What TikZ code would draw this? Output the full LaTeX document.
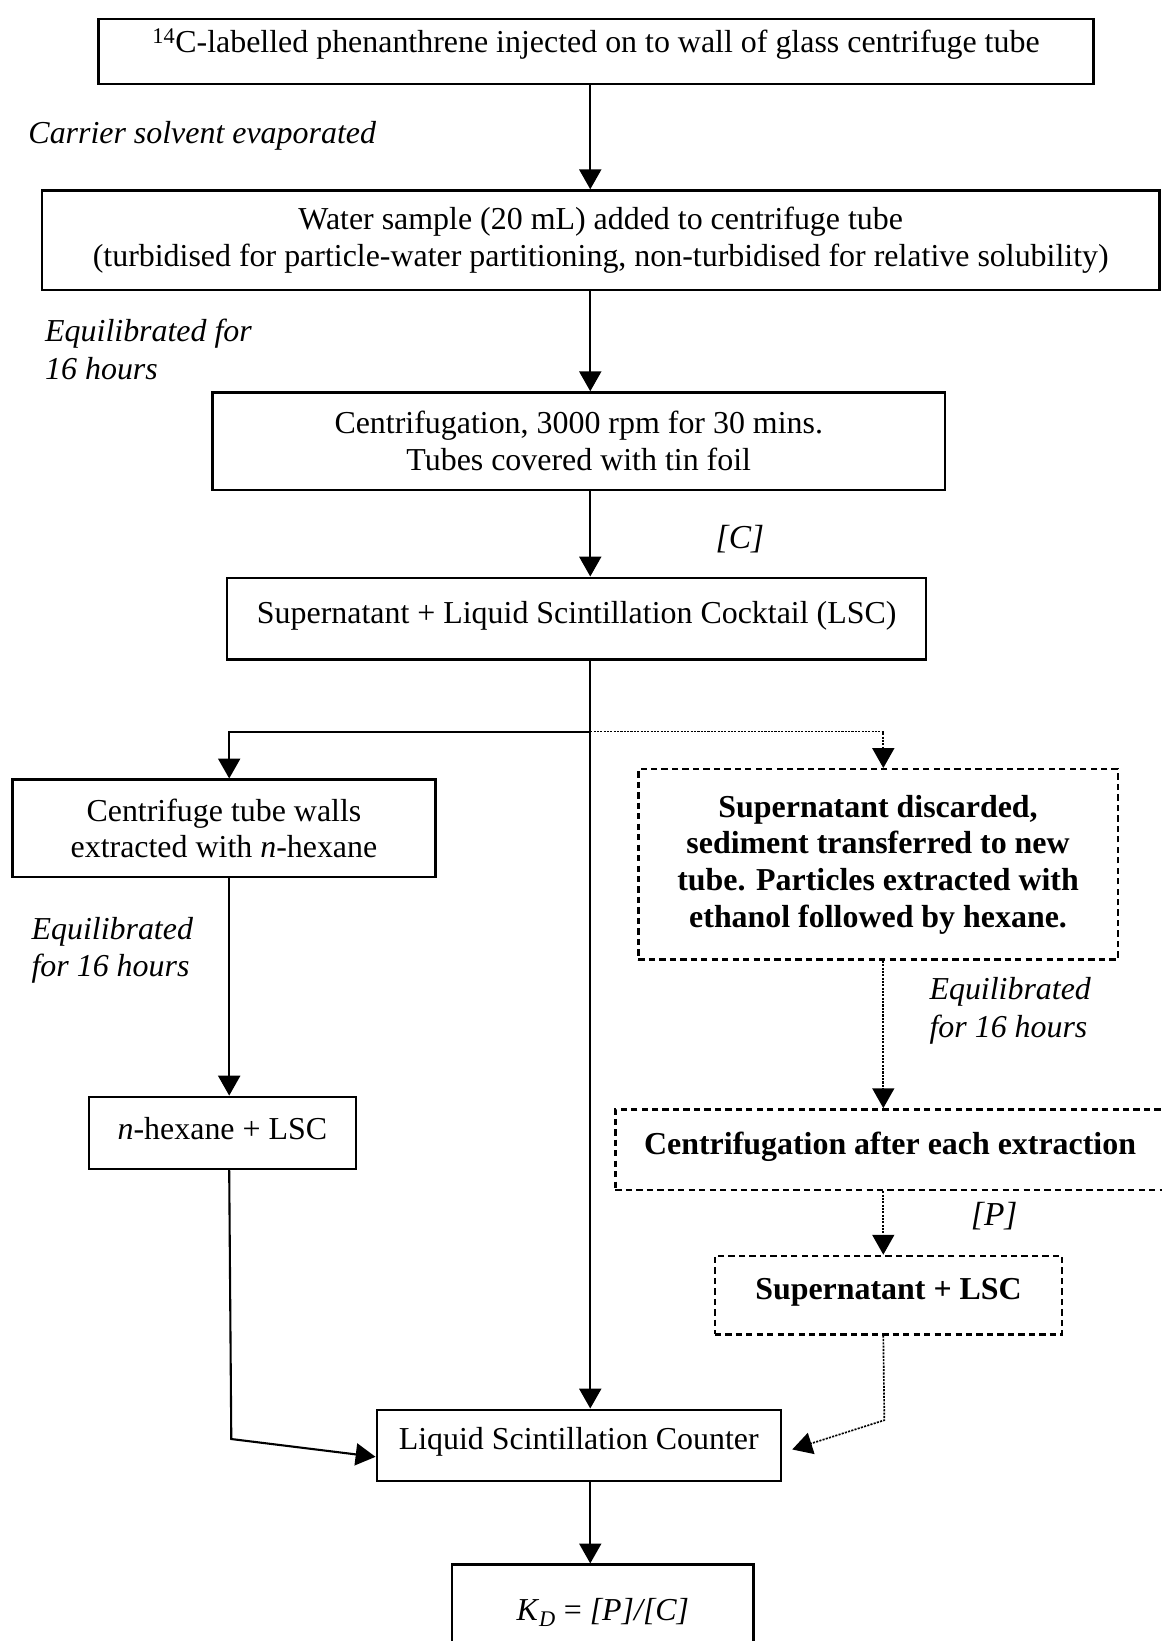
\documentclass[tikz,border=0pt]{standalone}
\usepackage{fontspec}
\setmainfont{Liberation Serif}
\usetikzlibrary{arrows.meta,calc}
\begin{document}
\begin{tikzpicture}[x=1pt,y=-1pt,
  box/.style={draw,line width=2.3pt,inner sep=0pt,align=center,font=\fontsize{30.5}{35}\selectfont},
  dbox/.style={box,dash pattern=on 6pt off 4pt,font=\fontsize{30.5}{35}\selectfont\bfseries},
  lab/.style={font=\fontsize{30.5}{36}\selectfont\itshape,align=left,inner sep=0pt},
  arr/.style={line width=2pt,-{Triangle[length=19pt,width=21pt]}},
  darr/.style={line width=1.6pt,dash pattern=on 2pt off 1.2pt,-{Triangle[length=19pt,width=21pt]}},
]
\useasboundingbox (0,0) rectangle (1110,1568);
\fill[white] (0,0) rectangle (1110,1568);

% boxes
\node[box,minimum width=951pt,minimum height=62pt] (b1) at (569.5,49)
  {\raisebox{7pt}[\height][\depth]{\textsuperscript{14}C-labelled phenanthrene injected on to wall of glass centrifuge tube}};
\node[box,minimum width=1068pt,minimum height=95pt] (b2) at (574,229.5)
  {Water sample (20 mL) added to centrifuge tube\\(turbidised for particle-water partitioning, non-turbidised for relative solubility)};
\node[box,minimum width=700pt,minimum height=93pt] (b3) at (553,421.5)
  {Centrifugation, 3000 rpm for 30 mins.\\Tubes covered with tin foil};
\node[box,minimum width=668pt,minimum height=78pt] (b4) at (551,591)
  {\raisebox{3pt}[\height][\depth]{Supernatant + Liquid Scintillation Cocktail (LSC)}};
\node[box,minimum width=404pt,minimum height=93pt] (b5) at (214,791.5)
  {Centrifuge tube walls\\extracted with \textit{n}-hexane};
\node[dbox,minimum width=458pt,minimum height=182pt] (b6) at (839,826)
  {Supernatant discarded,\\sediment transferred to new\\tube. Particles extracted with\\ethanol followed by hexane.};
\node[box,minimum width=255pt,minimum height=69pt] (b7) at (212.5,1082.5)
  {\raisebox{4pt}[\height][\depth]{\textit{n}-hexane + LSC}};
\node[dbox,minimum width=537pt,minimum height=77pt] (b8) at (856.5,1098.5)
  {\hspace*{-12pt}\raisebox{3pt}[\height][\depth]{Centrifugation after each extraction}};
\node[dbox,minimum width=332pt,minimum height=75pt] (b9) at (849,1237.5)
  {\raisebox{3pt}[\height][\depth]{Supernatant + LSC}};
\node[box,minimum width=386pt,minimum height=68pt] (b10) at (553,1381)
  {\raisebox{3pt}[\height][\depth]{Liquid Scintillation Counter}};
\node[box,minimum width=288pt,minimum height=92pt] (b11) at (576,1541)
  {\textit{K}\textsubscript{\textit{D}} = \textit{[P]/[C]}};

% labels
\node[lab,anchor=west] (l1) at (27,130) {Carrier solvent evaporated};
\node[lab,anchor=west] (l2) at (43,334) {Equilibrated for\\16 hours};
\node[lab,font=\fontsize{32}{36}\selectfont\itshape] (l3) at (707,515) {[C]};
\node[lab,anchor=west] (l4) at (30,908) {Equilibrated\\for 16 hours};
\node[lab,anchor=west] (l5) at (888,966) {Equilibrated\\for 16 hours};
\node[lab,font=\fontsize{32}{36}\selectfont\itshape] (l6) at (950,1162) {[P]};

% column coordinates
\coordinate (cm) at (564,0);
\coordinate (cl) at (219,0);
\coordinate (cr) at (844,0);
\coordinate (br) at (564,699);
\coordinate (kl) at (221,1375);
\coordinate (kr) at (845,1357);
\coordinate (tr) at (757,1385);

% connectors
\draw[arr] (b1.south -| cm) -- (b2.north -| cm);
\draw[arr] (b2.south -| cm) -- (b3.north -| cm);
\draw[arr] (b3.south -| cm) -- (b4.north -| cm);
\draw[arr] (b4.south -| cm) -- (b10.north -| cm);
\draw[arr] (br) -| (b5.north -| cl);
\draw[darr] (br) -| (b6.north -| cr);
\draw[arr] (b5.south -| cl) -- (b7.north -| cl);
\draw[arr] (b7.south -| cl) -- (kl) -- ($(b10.west)+(0,11)$);
\draw[darr] (b6.south -| cr) -- (b8.north -| cr);
\draw[darr] (b8.south -| cr) -- (b9.north -| cr);
\draw[darr] (b9.south -| cr) -- (kr) -- (tr);
\draw[arr] (b10.south -| cm) -- (b11.north -| cm);
\end{tikzpicture}
\end{document}
